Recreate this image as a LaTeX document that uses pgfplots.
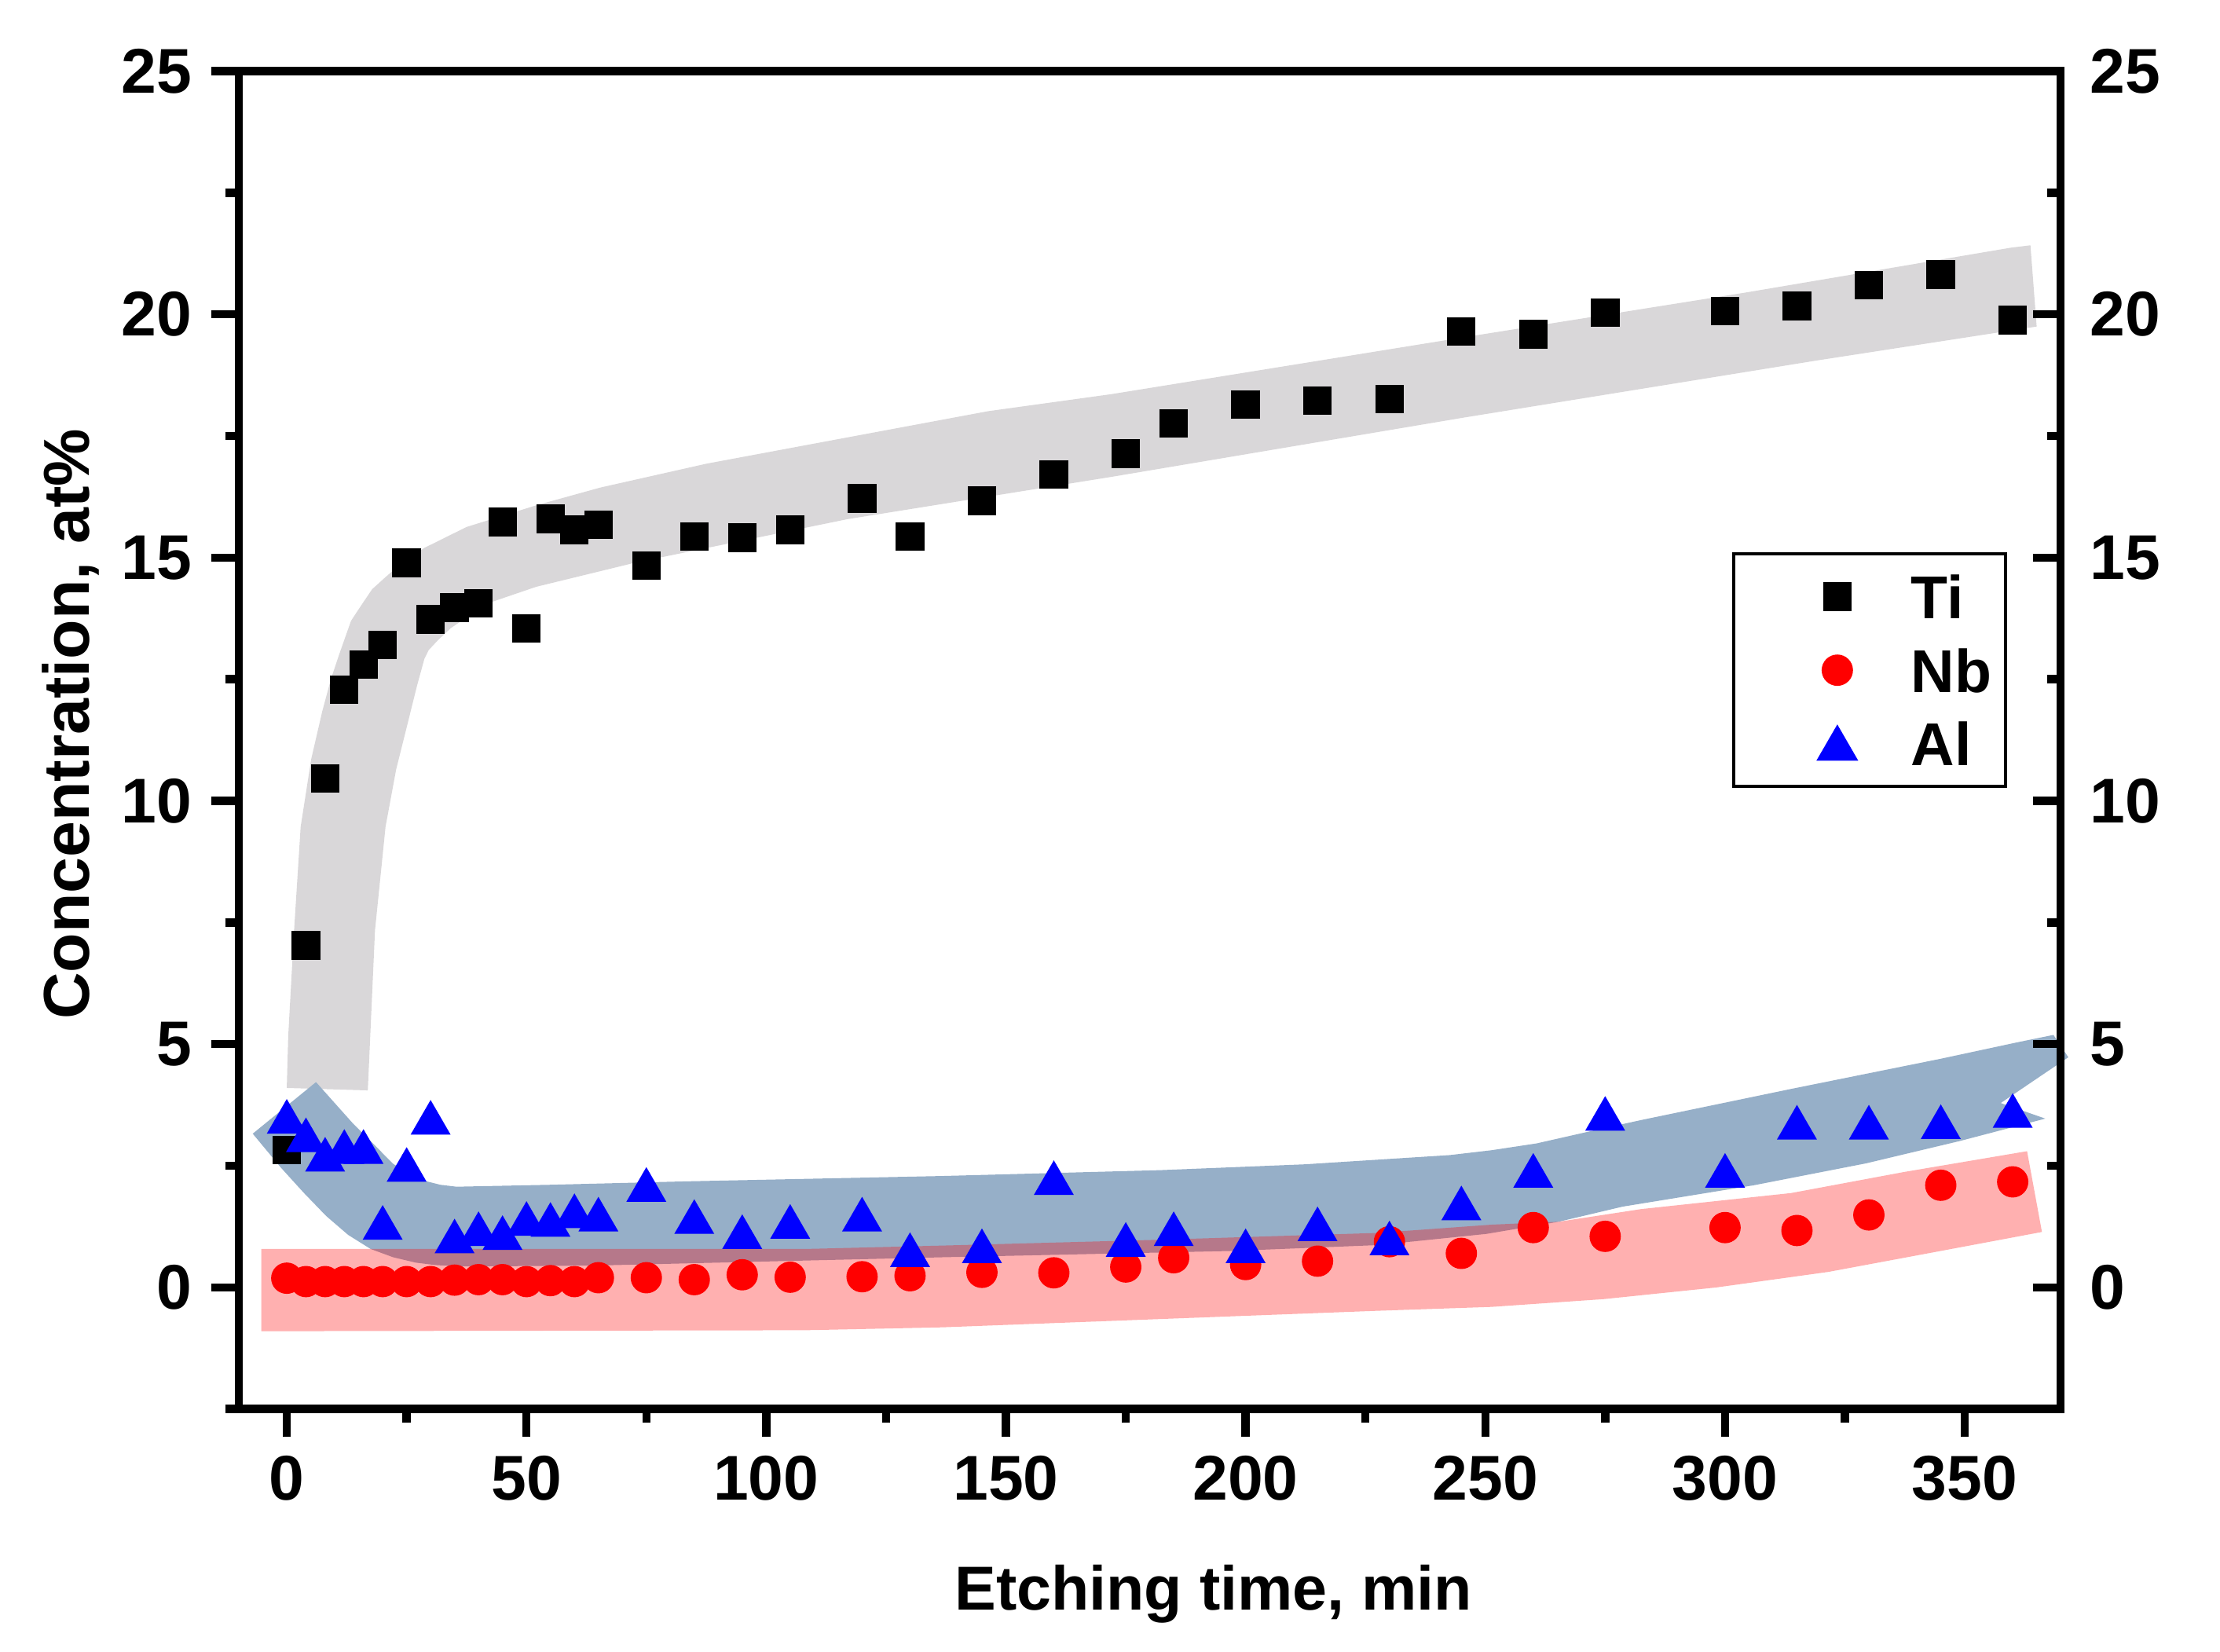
\documentclass[border=0pt]{standalone}
\usepackage{fontspec}
\setmainfont{Liberation Sans}
\usepackage{pgfplots}
\pgfplotsset{compat=1.18}
\definecolor{bandgray}{RGB}{217,215,217}
\definecolor{bandblue}{RGB}{150,175,200}
\pgfplotsset{
  mymarks/.style={only marks, mark options={line width=0.2pt},
    legend image code/.code={\path (0pt,0pt) (29.1pt,0pt); \draw[##1] plot coordinates {(17.5pt,0pt)};}},
  common/.style={
    scale only axis, width=331.5pt, height=243.46pt,
    xmin=-10, xmax=370, ymin=-2.5, ymax=25,
    axis line style={line width=1.5pt},
    ytick={0,5,...,25}, minor ytick={-2.5,2.5,...,22.5},
    major tick length=5pt, minor tick length=2.5pt,
    tick style={line width=1.5pt, black},
    /pgf/number format/assume math mode=true,
    ticklabel style={font=\fontsize{11.5}{12}\selectfont\bfseries},
  },
}
\pgfplotstableread{
x y
0 2.82
4 7.03
8 10.46
12 12.29
16 12.80
20 13.21
25 14.89
30 13.73
35 13.97
40 14.06
45 15.73
50 13.54
55 15.80
60 15.57
65 15.68
75 14.84
85 15.43
95 15.41
105 15.57
120 16.22
130 15.43
145 16.17
160 16.71
175 17.14
185 17.76
200 18.15
215 18.23
230 18.26
245 19.65
260 19.59
275 20.04
300 20.07
315 20.17
330 20.60
345 20.82
360 19.88
}\Ti
\pgfplotstableread{
x y
0 0.19
4 0.12
8 0.12
12 0.12
16 0.12
20 0.12
25 0.12
30 0.12
35 0.15
40 0.16
45 0.16
50 0.12
55 0.14
60 0.12
65 0.20
75 0.20
85 0.16
95 0.26
105 0.21
120 0.22
130 0.24
145 0.31
160 0.30
175 0.42
185 0.61
200 0.47
215 0.54
230 0.94
245 0.70
260 1.23
275 1.05
300 1.23
315 1.17
330 1.49
345 2.10
360 2.17
}\Nb
\pgfplotstableread{
x y
0 3.50
4 3.12
8 2.72
12 2.88
16 2.88
20 1.32
25 2.51
30 3.48
35 1.04
40 1.19
45 1.11
50 1.40
55 1.38
60 1.56
65 1.49
75 2.10
85 1.44
95 1.13
105 1.34
120 1.49
130 0.76
145 0.84
160 2.24
175 0.97
185 1.19
200 0.84
215 1.29
230 1.00
245 1.72
260 2.39
275 3.56
300 2.39
315 3.38
330 3.38
345 3.39
360 3.62
}\Al
\begin{document}
\begin{tikzpicture}
\useasboundingbox (-43.46pt,-44.09pt) rectangle (360.5pt,256.4pt);
\begin{axis}[common,
  clip=false,
  xtick={0,50,...,350}, minor xtick={25,75,...,325},
  xtick pos=left, ytick pos=left,
  tick align=outside,
  xlabel={\fontsize{11.3}{13}\selectfont\bfseries Etching time, min},
  ylabel={\fontsize{11.8}{13}\selectfont\bfseries Concentration, at\%},
  x label style={at={(rel axis cs:0.535,0)}, anchor=base, yshift=-36.6pt},
  y label style={at={(rel axis cs:0,0.5)}, anchor=center, yshift=30.6pt, xshift=2.9pt},
  legend cell align=left,
  legend style={at={(axis cs:358.8,15.11)}, anchor=north east, draw=black,
    line width=0.6pt, inner xsep=1pt, inner ysep=2.3pt, row sep=2.4pt,
    nodes={inner sep=1.5pt, text depth=0pt},
    font=\fontsize{11}{12}\selectfont\bfseries},
]
\addplot[fill=bandgray, draw=none, forget plot] coordinates {
(0,4.1) (0.3,5.16) (1.5,7.3) (2.9,9.47) (5.1,10.86) (7.4,11.84) (9.2,12.5) (11,13.03)
(13.4,13.7) (15.4,14.0) (17.8,14.35) (20.6,14.6) (24.5,14.93) (28.7,15.2) (37.5,15.63) (52.2,16.08)
(65.4,16.44) (87.5,16.93) (116.9,17.47) (146.3,18.01) (172,18.36) (245.6,19.53)
(304.4,20.45) (359.6,21.37) (363.7,21.42) (365,19.75) (319,19.05) (245.6,17.88)
(172,16.66) (116.9,15.79) (72.8,14.9) (52,14.4) (41.6,14.05) (34.2,13.55)
(31.5,13.3) (29.6,13.1) (28.7,12.92) (27.2,12.38) (25,11.51) (22.8,10.64) (20.6,9.47)
(18.4,7.34) (16.9,4.05)} -- cycle;
\addplot[fill=bandblue, draw=none, forget plot] coordinates {
(-7.1,3.16) (6.1,4.22) (13.8,3.37) (22.2,2.54) (25.5,2.33) (28.8,2.19) (32,2.11) (35.4,2.07) (55.1,2.11)
(83.3,2.18) (136.7,2.29) (182.1,2.41) (212.3,2.53) (242.6,2.72) (251.3,2.82) (260.7,2.96)
(272.8,3.23) (282.5,3.44) (313.8,4.08) (345,4.70) (360.6,5.03) (368.5,5.19) (371.6,4.73) (357.5,3.79)
(366.8,3.47) (349,3.01) (329.4,2.55) (306,2.10) (278.6,1.66) (265.3,1.35) (250.2,1.10)
(227.5,0.87) (197.2,0.75) (136.7,0.62) (64.5,0.45) (36.3,0.43) (31,0.46) (26.9,0.51)
(22.2,0.62) (17.5,0.79) (12.8,1.08) (8.2,1.47) (3.5,1.95) (-1.2,2.46)} -- cycle;
\addplot[fill=red, fill opacity=0.31, draw=none, forget plot] coordinates {
(-5.3,0.79) (108,0.79) (136.7,0.86) (182.1,0.98) (227.5,1.12) (251.3,1.29) (265.3,1.35)
(282.5,1.61) (313.8,1.94) (337.2,2.37) (363,2.80) (366.1,1.14) (345,0.75)
(321.6,0.32) (298.2,0) (274.7,-0.24) (251.3,-0.40) (227.5,-0.48) (182.1,-0.65) (136.7,-0.82)
(108,-0.88) (-5.3,-0.90)} -- cycle;
\addplot[mymarks, mark=square*, mark size=2.5pt, color=black] table[x=x,y=y] {\Ti};
\addlegendentry{Ti}
\addplot[mymarks, mark=*, mark size=2.75pt, color=red] table[x=x,y=y] {\Nb};
\addlegendentry{Nb}
\addplot[mymarks, mark=triangle*, mark size=3.8pt, color=blue, mark options={yshift=-0.9pt}] table[x=x,y=y] {\Al};
\addlegendentry{Al}
\end{axis}
\begin{axis}[common,
  hide x axis, axis y line*=right,
  tick align=inside,
  yticklabel style={xshift=1.8pt},
]
\addplot[draw=none] coordinates {(0,0)};
\end{axis}
\end{tikzpicture}
\end{document}
